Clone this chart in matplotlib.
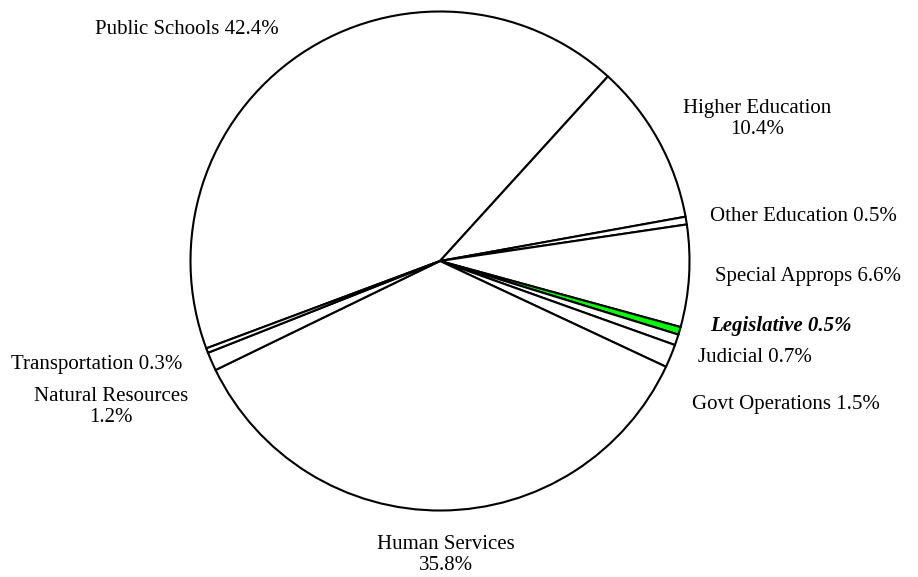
import matplotlib
matplotlib.use("Agg")
import matplotlib.pyplot as plt

# Share of the budget by function (percent), clockwise from Public Schools
categories = ["Public Schools", "Higher Education", "Other Education", "Special Approps",
              "Legislative", "Judicial", "Govt Operations", "Human Services",
              "Natural Resources", "Transportation"]
shares = [42.4, 10.4, 0.5, 6.6, 0.5, 0.7, 1.5, 35.8, 1.2, 0.3]
label_texts = ["Public Schools 42.4%", "Higher Education\n10.4%", "Other Education 0.5%",
               "Special Approps 6.6%", "Legislative 0.5%", "Judicial 0.7%",
               "Govt Operations 1.5%", "Human Services\n35.8%", "Natural Resources\n1.2%",
               "Transportation 0.3%"]
highlight = "Legislative"

W, H, DPI = 918, 577, 100
fig = plt.figure(figsize=(W / DPI, H / DPI), dpi=DPI)
plt.rcParams["font.family"] = ["Liberation Serif", "DejaVu Serif"]

# pie axes placed in pixel space: centre (440, 261) from top, radius 252 px
cx, cy, r = 440, 261, 252
ax = fig.add_axes([(cx - r) / W, (H - cy - r) / H, 2 * r / W, 2 * r / H])
colors = ["#00FF00" if c == highlight else "white" for c in categories]
ax.pie(shares, colors=colors, startangle=200.5, counterclock=False,
       wedgeprops=dict(edgecolor="black", linewidth=1.5))
ax.set_xlim(-1.01, 1.01)
ax.set_ylim(-1.01, 1.01)
ax.set_aspect("equal")
ax.axis("off")

# label anchor points in pixels (x, y from top)
label_pos = {
    "Public Schools": (187, 30),
    "Higher Education": (757, 119),
    "Other Education": (803, 217),
    "Special Approps": (808, 277),
    "Legislative": (781, 326),
    "Judicial": (755, 358),
    "Govt Operations": (786, 404),
    "Human Services": (446, 555),
    "Natural Resources": (111, 407),
    "Transportation": (97, 365),
}
for cat, txt in zip(categories, label_texts):
    px, py = label_pos[cat]
    bold = cat == highlight
    fig.text(px / W, 1 - py / H, txt, ha="center", va="center", fontsize=15,
             linespacing=1.15,
             fontweight="bold" if bold else "normal",
             fontstyle="italic" if bold else "normal")

fig.savefig("out.png", dpi=DPI)
